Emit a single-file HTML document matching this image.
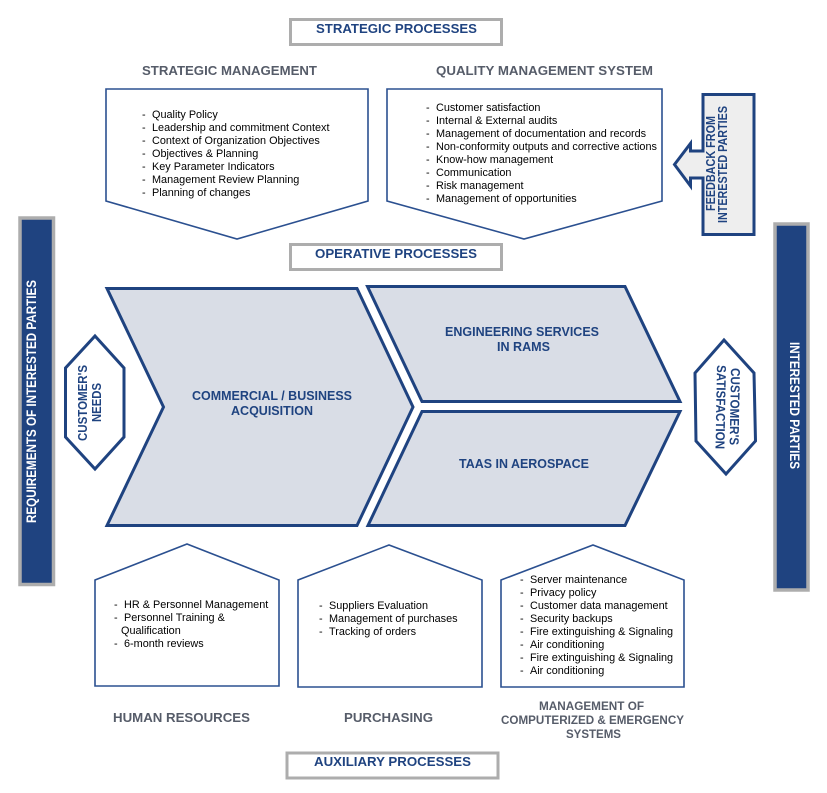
<!DOCTYPE html>
<html><head><meta charset="utf-8"><style>
html,body{margin:0;padding:0;background:#fff}
svg{display:block}
text{font-family:"Liberation Sans",sans-serif}
.l{font-size:10.86px;fill:#000}
.h{font-size:12.5px;font-weight:bold;fill:#565c69}
.n{font-size:13px;font-weight:bold;fill:#1f4380}
.b{font-size:13px;font-weight:bold;fill:#1f4380}
.t{font-size:13.5px;font-weight:bold;fill:#fff}
.box{fill:#fff;stroke:#adadad;stroke-width:3}
.p{fill:#fff;stroke:#2b5090;stroke-width:1.6}
.c{fill:#d9dde6;stroke:#1f4380;stroke-width:3;stroke-linejoin:miter}
.hx{fill:#fff;stroke:#1f4380;stroke-width:3}
</style></head><body>
<svg width="827" height="793" viewBox="0 0 827 793" xmlns="http://www.w3.org/2000/svg">
<rect class="box" x="290.5" y="19.5" width="211" height="25"/>
<text class="n" x="316" y="33" textLength="161" lengthAdjust="spacingAndGlyphs">STRATEGIC PROCESSES</text>
<rect class="box" x="290.5" y="244.5" width="211" height="25"/>
<text class="n" x="315" y="258" textLength="162" lengthAdjust="spacingAndGlyphs">OPERATIVE PROCESSES</text>
<rect class="box" x="287" y="753" width="211" height="25"/>
<text class="n" x="314" y="766" textLength="157" lengthAdjust="spacingAndGlyphs">AUXILIARY PROCESSES</text>

<text class="h" x="142" y="75" textLength="175" lengthAdjust="spacingAndGlyphs">STRATEGIC MANAGEMENT</text>
<text class="h" x="436" y="75" textLength="217" lengthAdjust="spacingAndGlyphs">QUALITY MANAGEMENT SYSTEM</text>

<polygon class="p" points="106,89 368,89 368,201 237,239 106,201"/>
<polygon class="p" points="387,89 662,89 662,201 524,239 387,201"/>

<!-- houses -->
<polygon class="p" points="95,580 187,544 279,580 279,686 95,686"/>
<polygon class="p" points="298,580 389,545 482,580 482,687 298,687"/>
<polygon class="p" points="501,580 593,545 684,580 684,687 501,687"/>

<g class="l">
<text x="142" y="118">-</text><text x="152" y="118">Quality Policy</text>
<text x="142" y="131">-</text><text x="152" y="131">Leadership and commitment Context</text>
<text x="142" y="144">-</text><text x="152" y="144">Context of Organization Objectives</text>
<text x="142" y="157">-</text><text x="152" y="157">Objectives &amp; Planning</text>
<text x="142" y="170">-</text><text x="152" y="170">Key Parameter Indicators</text>
<text x="142" y="183">-</text><text x="152" y="183">Management Review Planning</text>
<text x="142" y="196">-</text><text x="152" y="196">Planning of changes</text>

<text x="426" y="111">-</text><text x="436" y="111">Customer satisfaction</text>
<text x="426" y="124">-</text><text x="436" y="124">Internal &amp; External audits</text>
<text x="426" y="137">-</text><text x="436" y="137">Management of documentation and records</text>
<text x="426" y="150">-</text><text x="436" y="150">Non-conformity outputs and corrective actions</text>
<text x="426" y="163">-</text><text x="436" y="163">Know-how management</text>
<text x="426" y="176">-</text><text x="436" y="176">Communication</text>
<text x="426" y="189">-</text><text x="436" y="189">Risk management</text>
<text x="426" y="202">-</text><text x="436" y="202">Management of opportunities</text>

<text x="114" y="608">-</text><text x="124" y="608">HR &amp; Personnel Management</text>
<text x="114" y="621">-</text><text x="124" y="621">Personnel Training &amp;</text>
<text x="121" y="634">Qualification</text>
<text x="114" y="647">-</text><text x="124" y="647">6-month reviews</text>

<text x="319" y="609">-</text><text x="329" y="609">Suppliers Evaluation</text>
<text x="319" y="622">-</text><text x="329" y="622">Management of purchases</text>
<text x="319" y="635">-</text><text x="329" y="635">Tracking of orders</text>

<text x="520" y="583">-</text><text x="530" y="583">Server maintenance</text>
<text x="520" y="596">-</text><text x="530" y="596">Privacy policy</text>
<text x="520" y="609">-</text><text x="530" y="609">Customer data management</text>
<text x="520" y="622">-</text><text x="530" y="622">Security backups</text>
<text x="520" y="635">-</text><text x="530" y="635">Fire extinguishing &amp; Signaling</text>
<text x="520" y="648">-</text><text x="530" y="648">Air conditioning</text>
<text x="520" y="661">-</text><text x="530" y="661">Fire extinguishing &amp; Signaling</text>
<text x="520" y="674">-</text><text x="530" y="674">Air conditioning</text>
</g>

<!-- feedback -->
<path d="M703,94.5 H754 V234.5 H703 V178 H690.5 V186 L674.5,164.5 L690.5,143.5 V151 H703 Z" fill="#eeeeee" stroke="#1f4380" stroke-width="3"/>
<text class="b" style="font-size:12.5px" transform="translate(715,211) rotate(-90)" textLength="95" lengthAdjust="spacingAndGlyphs">FEEDBACK FROM</text>
<text class="b" style="font-size:12.5px" transform="translate(727,223) rotate(-90)" textLength="117" lengthAdjust="spacingAndGlyphs">INTERESTED PARTIES</text>

<!-- side bars -->
<rect x="20" y="218" width="33.500" height="366.500" fill="#1f4380" stroke="#adadad" stroke-width="3.500"/>
<text class="t" transform="translate(36,523) rotate(-90)" textLength="243" lengthAdjust="spacingAndGlyphs">REQUIREMENTS OF INTERESTED PARTIES</text>
<rect x="775" y="224" width="33" height="366" fill="#1f4380" stroke="#adadad" stroke-width="3.500"/>
<text class="t" transform="translate(790,342) rotate(90)" textLength="127" lengthAdjust="spacingAndGlyphs">INTERESTED PARTIES</text>

<!-- chevrons -->
<polygon class="c" points="107,288.500 357,288.500 413,407 357,525.500 107,525.500 163.500,407"/>
<polygon class="c" points="367.500,286.500 625,286.500 680,401.500 422,401.500"/>
<polygon class="c" points="422,411.500 680,411.500 625,525.500 368,525.500"/>
<text class="n" x="192" y="400" textLength="160" lengthAdjust="spacingAndGlyphs">COMMERCIAL / BUSINESS</text>
<text class="n" x="231" y="415" textLength="82" lengthAdjust="spacingAndGlyphs">ACQUISITION</text>
<text class="n" x="445" y="336" textLength="154" lengthAdjust="spacingAndGlyphs">ENGINEERING SERVICES</text>
<text class="n" x="497" y="351" textLength="53" lengthAdjust="spacingAndGlyphs">IN RAMS</text>
<text class="n" x="459" y="468" textLength="130" lengthAdjust="spacingAndGlyphs">TAAS IN AEROSPACE</text>

<!-- hexagons -->
<polygon class="hx" points="95,336 124,368 124,437 95,469 65.500,437 65.500,368"/>
<text class="b" transform="translate(87,441) rotate(-90)" textLength="76" lengthAdjust="spacingAndGlyphs">CUSTOMER'S</text>
<text class="b" transform="translate(101,422) rotate(-90)" textLength="39" lengthAdjust="spacingAndGlyphs">NEEDS</text>
<polygon class="hx" points="724,340 754,373 755.500,441 726,474 696,441 695,373"/>
<text class="b" transform="translate(731,368) rotate(91)" textLength="77" lengthAdjust="spacingAndGlyphs">CUSTOMER'S</text>
<text class="b" transform="translate(717,365) rotate(91)" textLength="84" lengthAdjust="spacingAndGlyphs">SATISFACTION</text>

<text class="h" x="113" y="722" textLength="137" lengthAdjust="spacingAndGlyphs">HUMAN RESOURCES</text>
<text class="h" x="344" y="722" textLength="89" lengthAdjust="spacingAndGlyphs">PURCHASING</text>
<text class="h" x="539" y="710" textLength="105" lengthAdjust="spacingAndGlyphs" style="font-size:12px">MANAGEMENT OF</text>
<text class="h" x="501" y="724" textLength="183" lengthAdjust="spacingAndGlyphs" style="font-size:12px">COMPUTERIZED &amp; EMERGENCY</text>
<text class="h" x="566" y="738" textLength="55" lengthAdjust="spacingAndGlyphs" style="font-size:12px">SYSTEMS</text>
</svg>
</body></html>
